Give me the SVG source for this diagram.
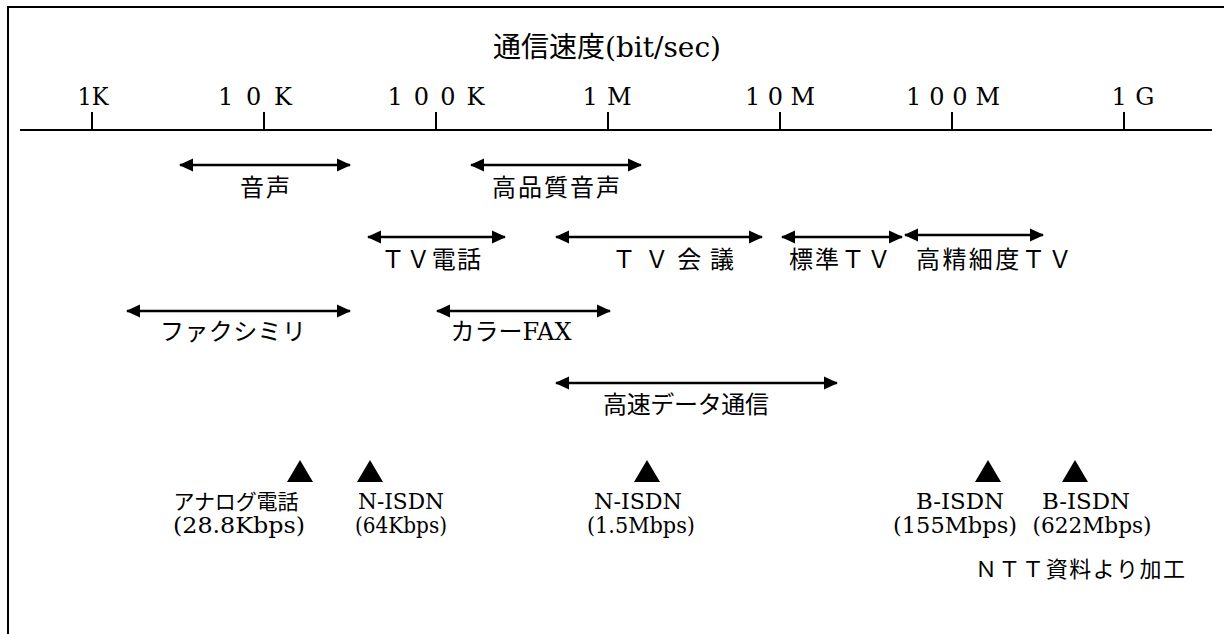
<svg xmlns="http://www.w3.org/2000/svg" width="1224" height="634" viewBox="0 0 1224 634">
<defs>
<marker id="ah" viewBox="0 0 14 14" refX="13" refY="7" markerWidth="14" markerHeight="14" markerUnits="userSpaceOnUse" orient="auto-start-reverse">
<path d="M0,0.5 L14,7 L0,13.5 Z" fill="#000"/>
</marker>
<style>
text{fill:#000;text-anchor:middle}
.jp{font-family:"Noto Sans CJK JP","Noto Sans CJK SC",sans-serif}
.la{font-family:"DejaVu Serif","Liberation Serif",serif}
.ax{font-size:24px}
.lb{font-size:24px}
.sm{font-size:22px}
.rng{stroke:#000;stroke-width:2.5;fill:none;marker-start:url(#ah);marker-end:url(#ah)}
.frame{stroke:#000;stroke-width:2;fill:none}
</style>
</defs>
<g id="frame">
<path class="frame" d="M8,634 L8,7 L1224,7"/>
</g>
<g id="axis">
<text x="607" y="57" style="font-size:28px"><tspan font-family="Noto Sans CJK JP, sans-serif">通信速度</tspan><tspan font-family="DejaVu Serif, Liberation Serif, serif">(bit/sec)</tspan></text>
<line x1="20" y1="130" x2="1212" y2="130" stroke="#000" stroke-width="2"/>
<g stroke="#000" stroke-width="2">
<line x1="92" y1="112" x2="92" y2="130"/>
<line x1="264" y1="112" x2="264" y2="130"/>
<line x1="436" y1="112" x2="436" y2="130"/>
<line x1="608" y1="112" x2="608" y2="130"/>
<line x1="780" y1="112" x2="780" y2="130"/>
<line x1="952" y1="112" x2="952" y2="130"/>
<line x1="1124" y1="112" x2="1124" y2="130"/>
</g>
<text class="la ax" x="93" y="105" textLength="31" lengthAdjust="spacingAndGlyphs">1K</text>
<text class="la ax" x="255" y="105" textLength="74" lengthAdjust="spacing">1 0 K</text>
<text class="la ax" x="436" y="105" textLength="97" lengthAdjust="spacing">1 0 0 K</text>
<text class="la ax" x="607" y="105" textLength="49" lengthAdjust="spacing">1 M</text>
<text class="la ax" x="780" y="105" textLength="70" lengthAdjust="spacing">1 0 M</text>
<text class="la ax" x="953" y="105" textLength="94" lengthAdjust="spacing">1 0 0 M</text>
<text class="la ax" x="1133" y="105" textLength="43" lengthAdjust="spacing">1 G</text>
</g>
<g id="connectors">
<line class="rng" x1="180" y1="165" x2="350" y2="165"/>
<line class="rng" x1="471" y1="165" x2="641" y2="165"/>
<line class="rng" x1="368" y1="237" x2="505" y2="237"/>
<line class="rng" x1="556" y1="237" x2="762" y2="237"/>
<line class="rng" x1="782" y1="237" x2="902" y2="237"/>
<line class="rng" x1="905" y1="235" x2="1043" y2="235"/>
<line class="rng" x1="127" y1="311" x2="350" y2="311"/>
<line class="rng" x1="437" y1="311" x2="610" y2="311"/>
<line class="rng" x1="556" y1="383" x2="837" y2="383"/>
</g>
<g id="n-onsei"><text class="jp lb" x="265" y="196" textLength="50" lengthAdjust="spacing">音声</text></g>
<g id="n-kohinshitsu"><text class="jp lb" x="556" y="196" textLength="128" lengthAdjust="spacing">高品質音声</text></g>
<g id="n-tvdenwa"><text class="jp lb" x="431" y="268" textLength="100" lengthAdjust="spacing">ＴＶ電話</text></g>
<g id="n-tvkaigi"><text class="jp lb" x="673" y="268" textLength="122" lengthAdjust="spacing">ＴＶ会議</text></g>
<g id="n-hyojun"><text class="jp lb" x="840" y="268" textLength="102" lengthAdjust="spacing">標準ＴＶ</text></g>
<g id="n-koseisai"><text class="jp lb" x="994" y="268" textLength="156" lengthAdjust="spacing">高精細度ＴＶ</text></g>
<g id="n-fax"><text class="jp lb" x="233" y="340" textLength="146" lengthAdjust="spacing">ファクシミリ</text></g>
<g id="n-colorfax"><text class="lb" x="511" y="340"><tspan font-family="Noto Sans CJK JP, sans-serif">カラー</tspan><tspan font-family="DejaVu Serif, Liberation Serif, serif">FAX</tspan></text></g>
<g id="n-kosoku"><text class="jp lb" x="686" y="413" textLength="166" lengthAdjust="spacing">高速データ通信</text></g>
<g id="m-analog">
<path d="M300,460 L313,482 L287,482 Z" fill="#000"/>
<text class="jp" x="236" y="509" style="font-size:21px" textLength="125" lengthAdjust="spacing">アナログ電話</text>
<text class="la sm" x="239" y="533" textLength="132" lengthAdjust="spacingAndGlyphs">(28.8Kbps)</text>
</g>
<g id="m-nisdn64">
<path d="M370,460 L383,482 L357,482 Z" fill="#000"/>
<text class="la sm" x="401" y="509" textLength="86" lengthAdjust="spacingAndGlyphs">N-ISDN</text>
<text class="la sm" x="401" y="533" textLength="92" lengthAdjust="spacingAndGlyphs">(64Kbps)</text>
</g>
<g id="m-nisdn15">
<path d="M647,460 L660,482 L634,482 Z" fill="#000"/>
<text class="la sm" x="638" y="509" textLength="88" lengthAdjust="spacingAndGlyphs">N-ISDN</text>
<text class="la sm" x="641" y="533" textLength="108" lengthAdjust="spacingAndGlyphs">(1.5Mbps)</text>
</g>
<g id="m-bisdn155">
<path d="M988,460 L1001,482 L975,482 Z" fill="#000"/>
<text class="la sm" x="960" y="509" textLength="88" lengthAdjust="spacingAndGlyphs">B-ISDN</text>
<text class="la sm" x="955" y="533" textLength="124" lengthAdjust="spacingAndGlyphs">(155Mbps)</text>
</g>
<g id="m-bisdn622">
<path d="M1075,460 L1088,482 L1062,482 Z" fill="#000"/>
<text class="la sm" x="1086" y="509" textLength="88" lengthAdjust="spacingAndGlyphs">B-ISDN</text>
<text class="la sm" x="1092" y="533" textLength="119" lengthAdjust="spacingAndGlyphs">(622Mbps)</text>
</g>
<g id="source"><text class="jp sm" x="1080" y="577" textLength="210" lengthAdjust="spacing">ＮＴＴ資料より加工</text></g>
</svg>
